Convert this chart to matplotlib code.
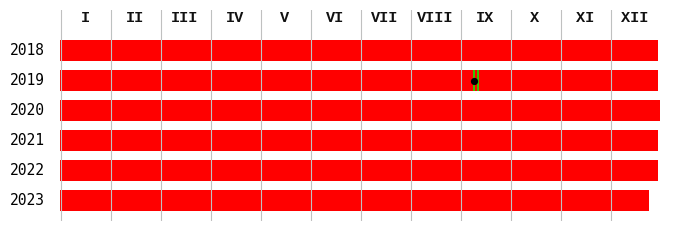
import matplotlib
matplotlib.use("Agg")
import matplotlib.pyplot as plt
from matplotlib.transforms import blended_transform_factory

years = ["2018", "2019", "2020", "2021", "2022", "2023"]
months = ["I", "II", "III", "IV", "V", "VI", "VII", "VIII", "IX", "X", "XI", "XII"]
# coverage per year: start day and end day (day of year)
start_day = [0, 0, 0, 0, 0, 0]
end_day = [365, 365, 366, 365, 365, 359]
# event in 2019
event_year_idx = 1
event_day = 252.8
event_lines = [252.8, 254.7]

W, H = 700, 250
fig = plt.figure(figsize=(W / 100, H / 100), dpi=100)
# axes: x pixels 60..660, y pixels 10..221
ax = fig.add_axes([60 / W, 1 - 221 / H, 600 / W, 211 / H])
ax.set_xlim(0, 366)
top_px, bot_px = 10, 221
row0, step = 50.5, 30
ax.set_ylim((bot_px - row0) / step, (top_px - row0) / step)
ax.axis("off")

half_px = 0.5 * 366 / 600

for i, y in enumerate(years):
    ax.barh(i, end_day[i] - start_day[i], left=start_day[i], height=0.7,
            color="#ff0000", zorder=1, linewidth=0)

# month gridlines and labels
mlen = 366 / 12
for m in range(13):
    ax.axvline(m * mlen + half_px, color="#c0c0c0", lw=0.8, zorder=3)
label_y = (18 - row0) / step
for m, lab in enumerate(months):
    ax.text((m + 0.5) * mlen, label_y, lab, ha="center", va="center",
            fontsize=11, family="Liberation Mono", fontweight="bold",
            color="#111111", zorder=4)

# year labels
tr = blended_transform_factory(fig.transFigure, ax.transData)
for i, y in enumerate(years):
    fig.text(27.5 / W, i, y, transform=tr, ha="center", va="center",
             fontsize=10.5, family="DejaVu Sans Mono")

# event marker
for d in event_lines:
    ax.plot([d, d], [event_year_idx - 0.34, event_year_idx + 0.34],
            color="#00ff00", lw=1.1, zorder=5, solid_capstyle="butt")
ax.plot([event_day], [event_year_idx], "o", color="black", ms=5.2,
        mew=0, zorder=6)

fig.savefig("out.png", dpi=100)
